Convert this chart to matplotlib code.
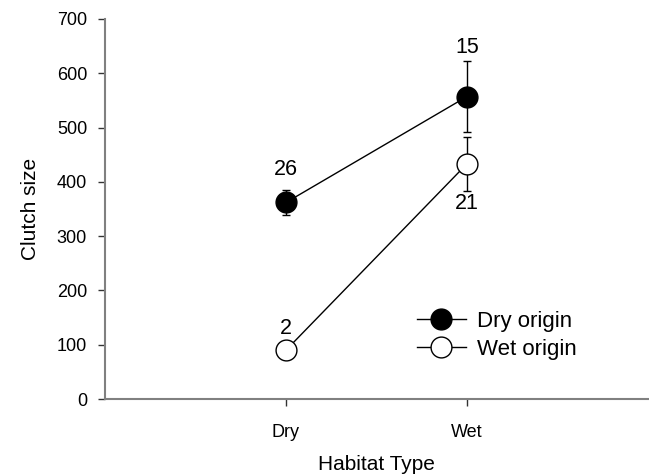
import matplotlib.pyplot as plt
from matplotlib.lines import Line2D

plt.rcParams['font.family'] = ['Liberation Sans', 'DejaVu Sans']

habitat = ['Dry', 'Wet']
xpos = [1, 2]

dry_mean = [362, 557]
dry_err = [23, 66]
dry_n = ['26', '15']

wet_mean = [90, 433]
wet_err = [0, 50]
wet_n = ['2', '21']

fig = plt.figure(figsize=(6.49, 4.75), dpi=100)
ax = fig.add_axes([0.162, 0.16, 0.836, 0.80])

ax.errorbar(xpos, dry_mean, yerr=dry_err, color='black', lw=1, elinewidth=1,
            capsize=2.8, capthick=1, marker='o', markersize=15,
            markerfacecolor='black', markeredgecolor='black', zorder=3)
ax.errorbar(xpos, wet_mean, yerr=wet_err, color='black', lw=1, elinewidth=1,
            capsize=2.8, capthick=1, marker='o', markersize=15,
            markerfacecolor='white', markeredgecolor='black', zorder=3)

# sample sizes
ax.text(1, 422, dry_n[0], ha='center', va='center', fontsize=15.5)
ax.text(2, 648, dry_n[1], ha='center', va='center', fontsize=15.5)
ax.text(1, 129, wet_n[0], ha='center', va='center', fontsize=15.5)
ax.text(2, 361, wet_n[1], ha='center', va='center', fontsize=15.5)

ax.set_xlim(0, 3)
ax.set_ylim(0, 700)
ax.set_xticks(xpos)
ax.set_xticklabels(habitat)
ax.set_yticks(range(0, 701, 100))
ax.tick_params(labelsize=13, length=5, width=1, color='#333333', pad=8)
ax.tick_params(axis='x', pad=13)

for s in ['top', 'right']:
    ax.spines[s].set_visible(False)
for s in ['left', 'bottom']:
    ax.spines[s].set_color('#808080')
    ax.spines[s].set_linewidth(1.5)

ax.set_xlabel('Habitat Type', fontsize=15, labelpad=10)
ax.set_ylabel('Clutch size', fontsize=15, labelpad=12)

handles = [
    Line2D([], [], color='black', lw=1, marker='o', markersize=15,
           markerfacecolor='black', markeredgecolor='black'),
    Line2D([], [], color='black', lw=1, marker='o', markersize=15,
           markerfacecolor='white', markeredgecolor='black'),
]
ax.legend(handles, ['Dry origin', 'Wet origin'], loc='center left',
          bbox_to_anchor=(0.538, 0.167), frameon=False,
          fontsize=16, handlelength=2.2, handletextpad=0.5, labelspacing=0.3)

plt.savefig('out.png', dpi=100)
